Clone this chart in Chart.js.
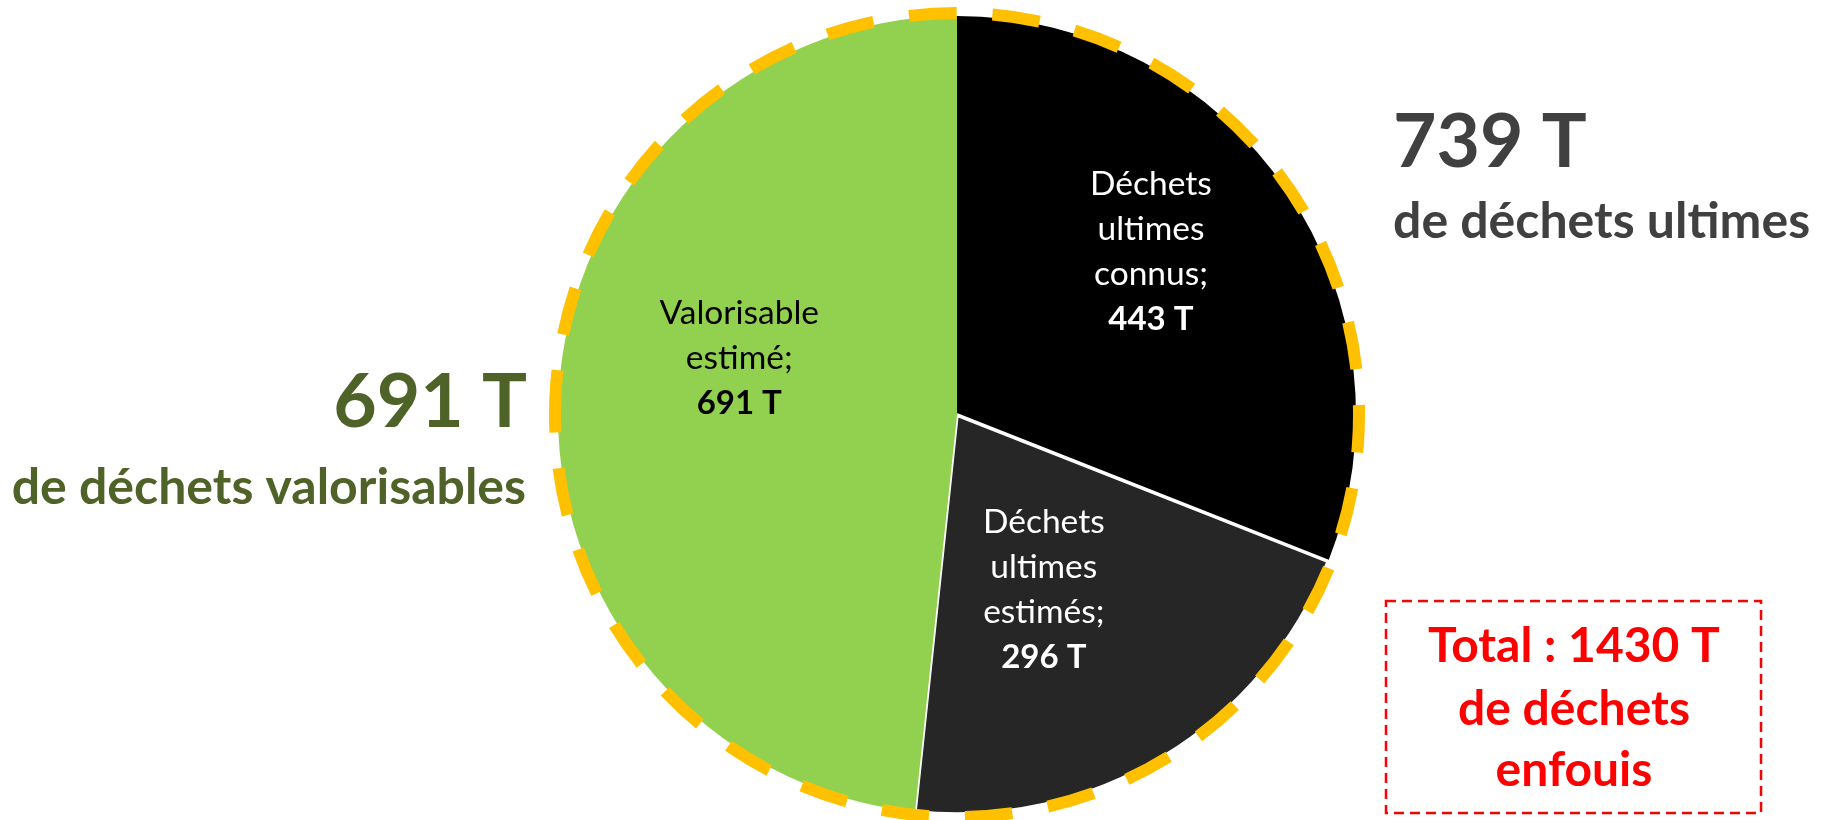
<!DOCTYPE html>
<html lang="fr">
<head>
<meta charset="utf-8">
<title>Déchets enfouis</title>
<script src="https://cdn.jsdelivr.net/npm/chart.js@4/dist/chart.umd.min.js"></script>
<style>
    html, body { margin: 0; padding: 0; background: #fff; }
    #wrap { position: relative; width: 1825px; height: 820px; }
</style>
</head>
<body>
<div id="wrap"><canvas id="pie"></canvas></div>
<script>
// Data (tonnes)
const categories = ['Déchets ultimes connus', 'Déchets ultimes estimés', 'Valorisable estimé'];
const categoryLines = [
    ['Déchets', 'ultimes', 'connus;'],
    ['Déchets', 'ultimes', 'estimés;'],
    ['Valorisable', 'estimé;'],
];
const values = [443, 296, 691];
const unit = 'T';

const sliceColors = ['#000000', '#262626', '#92D050'];
const labelColors = ['#ffffff', '#ffffff', '#000000'];

const ultimes = values[0] + values[1];
const valorisables = values[2];
const total = values.reduce((a, b) => a + b, 0);

const FONT = 'Lato, "Open Sans", sans-serif';

// where each slice label sits: fraction along the slice angle, fraction of radius
const labelAnchors = [
    { at: 0.446, r: 0.637 },
    { at: 0.562, r: 0.486 },
    { at: 0.569, r: 0.565 },
];

const sliceLabels = {
    id: 'sliceLabels',
    afterDatasetsDraw(chart) {
        const ctx = chart.ctx;
        const arcs = chart.getDatasetMeta(0).data;
        ctx.save();
        ctx.textAlign = 'center';
        ctx.textBaseline = 'alphabetic';
        arcs.forEach((arc, i) => {
            const p = arc.getProps(['x', 'y', 'startAngle', 'endAngle', 'outerRadius'], true);
            const a = labelAnchors[i];
            const ang = p.startAngle + (p.endAngle - p.startAngle) * a.at;
            const cx = p.x + Math.cos(ang) * p.outerRadius * a.r;
            const cy = p.y + Math.sin(ang) * p.outerRadius * a.r;
            const lines = categoryLines[i].concat([`${values[i]} ${unit}`]);
            const lh = 45;
            const top = cy - (lines.length - 1) / 2 * lh + 12;
            ctx.fillStyle = labelColors[i];
            lines.forEach((t, k) => {
                const last = k === lines.length - 1;
                ctx.font = last ? `bold 33px ${FONT}` : `33.5px ${FONT}`;
                ctx.fillText(t, cx, top + k * lh);
            });
        });
        ctx.restore();
    }
};

// dashed gold ring round the pie (path starts on the left, runs anticlockwise)
const ring = {
    id: 'ring',
    afterDatasetsDraw(chart) {
        const ctx = chart.ctx;
        const arc = chart.getDatasetMeta(0).data[0];
        const p = arc.getProps(['x', 'y', 'outerRadius'], true);
        const r = p.outerRadius + 3;
        const period = (2 * Math.PI * r - 16) / 30;
        const start = Math.PI + 0.075;
        ctx.save();
        ctx.strokeStyle = '#FFC000';
        ctx.lineWidth = 12;
        ctx.setLineDash([period * 0.57, period * 0.43]);
        ctx.beginPath();
        ctx.arc(p.x, p.y, r, start, start - Math.PI * 2, true);
        ctx.stroke();
        ctx.restore();
    }
};

const sideNotes = {
    id: 'sideNotes',
    afterDraw(chart) {
        const ctx = chart.ctx;
        ctx.save();
        ctx.textBaseline = 'alphabetic';

        ctx.fillStyle = '#404040';
        ctx.textAlign = 'left';
        ctx.font = `bold 75px ${FONT}`;
        ctx.fillText(`${ultimes} ${unit}`, 1393, 167);
        ctx.font = `bold 50px ${FONT}`;
        ctx.fillText('de déchets ultimes', 1393, 238);

        ctx.fillStyle = '#4F6228';
        ctx.textAlign = 'right';
        ctx.font = `bold 75px ${FONT}`;
        ctx.fillText(`${valorisables} ${unit}`, 527, 427);
        ctx.font = `bold 50px ${FONT}`;
        ctx.fillText('de déchets valorisables', 526, 504);

        // total box
        ctx.strokeStyle = '#FF0000';
        ctx.lineWidth = 2.5;
        ctx.setLineDash([10, 6]);
        ctx.strokeRect(1386, 601, 375, 212);
        ctx.setLineDash([]);
        ctx.fillStyle = '#FF0000';
        ctx.textAlign = 'center';
        ctx.font = `bold 48px ${FONT}`;
        ctx.fillText(`Total : ${total} ${unit}`, 1574, 662);
        ctx.fillText('de déchets', 1574, 725);
        ctx.fillText('enfouis', 1574, 786);
        ctx.restore();
    }
};

function draw() {
    new Chart(document.getElementById('pie'), {
        type: 'pie',
        data: {
            labels: categories,
            datasets: [{
                data: values,
                backgroundColor: sliceColors,
                borderColor: '#ffffff',
                borderWidth: [0, 3.5, 0],
                hoverOffset: 0,
                offset: 0,
            }]
        },
        options: {
            responsive: true,
            maintainAspectRatio: false,
            animation: false,
            events: [],
            radius: 399,
            layout: { padding: { left: 89, top: 10, right: 0, bottom: 0 } },
            plugins: {
                legend: { display: false },
                tooltip: { enabled: false },
            }
        },
        plugins: [ring, sliceLabels, sideNotes]
    });
}

Promise.all([
    document.fonts.load(`33px ${FONT}`),
    document.fonts.load(`bold 33px ${FONT}`),
]).then(draw, draw);
</script>
</body>
</html>
